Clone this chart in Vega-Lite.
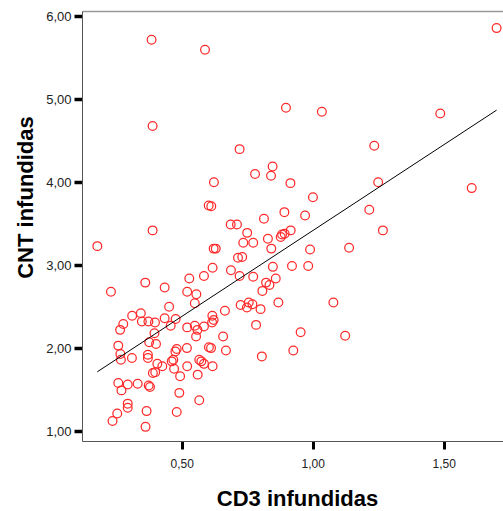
{
  "$schema": "https://vega.github.io/schema/vega-lite/v6.json",
  "width": 421,
  "height": 430,
  "autosize": "none",
  "padding": {"left": 82, "top": 11, "right": 0, "bottom": 70},
  "background": "white",
  "config": {"view": {"stroke": null}, "font": "Liberation Sans"},
  "data": {"values": [
    {"cd3": 0.385, "cnt": 5.72}, {"cd3": 0.389, "cnt": 4.68}, {"cd3": 1.702, "cnt": 5.86}, {"cd3": 1.487, "cnt": 4.83},
    {"cd3": 1.235, "cnt": 4.44}, {"cd3": 0.589, "cnt": 5.60}, {"cd3": 0.898, "cnt": 4.90}, {"cd3": 1.035, "cnt": 4.85},
    {"cd3": 0.721, "cnt": 4.40}, {"cd3": 0.847, "cnt": 4.19}, {"cd3": 0.780, "cnt": 4.10}, {"cd3": 0.841, "cnt": 4.08},
    {"cd3": 0.623, "cnt": 4.00}, {"cd3": 0.915, "cnt": 3.99}, {"cd3": 1.001, "cnt": 3.82}, {"cd3": 0.603, "cnt": 3.72},
    {"cd3": 0.613, "cnt": 3.71}, {"cd3": 0.892, "cnt": 3.64}, {"cd3": 0.971, "cnt": 3.60}, {"cd3": 0.814, "cnt": 3.56},
    {"cd3": 0.687, "cnt": 3.49}, {"cd3": 0.711, "cnt": 3.49}, {"cd3": 0.750, "cnt": 3.39}, {"cd3": 0.916, "cnt": 3.42},
    {"cd3": 0.883, "cnt": 3.37}, {"cd3": 0.893, "cnt": 3.38}, {"cd3": 0.878, "cnt": 3.34}, {"cd3": 0.735, "cnt": 3.27},
    {"cd3": 0.773, "cnt": 3.27}, {"cd3": 0.829, "cnt": 3.32}, {"cd3": 0.622, "cnt": 3.20}, {"cd3": 0.630, "cnt": 3.20},
    {"cd3": 0.842, "cnt": 3.20}, {"cd3": 0.990, "cnt": 3.19}, {"cd3": 1.139, "cnt": 3.21}, {"cd3": 0.715, "cnt": 3.09},
    {"cd3": 0.731, "cnt": 3.10}, {"cd3": 0.618, "cnt": 2.97}, {"cd3": 0.688, "cnt": 2.94}, {"cd3": 0.848, "cnt": 2.98},
    {"cd3": 0.921, "cnt": 2.99}, {"cd3": 0.983, "cnt": 2.99}, {"cd3": 0.585, "cnt": 2.87}, {"cd3": 0.721, "cnt": 2.87},
    {"cd3": 0.773, "cnt": 2.86}, {"cd3": 0.529, "cnt": 2.84}, {"cd3": 0.859, "cnt": 2.84}, {"cd3": 0.822, "cnt": 2.79},
    {"cd3": 0.835, "cnt": 2.76}, {"cd3": 0.521, "cnt": 2.68}, {"cd3": 0.556, "cnt": 2.65}, {"cd3": 0.808, "cnt": 2.69},
    {"cd3": 0.550, "cnt": 2.54}, {"cd3": 0.869, "cnt": 2.55}, {"cd3": 1.079, "cnt": 2.55}, {"cd3": 0.725, "cnt": 2.52},
    {"cd3": 0.756, "cnt": 2.55}, {"cd3": 0.770, "cnt": 2.53}, {"cd3": 0.749, "cnt": 2.49}, {"cd3": 0.801, "cnt": 2.47},
    {"cd3": 0.665, "cnt": 2.45}, {"cd3": 0.361, "cnt": 2.79}, {"cd3": 0.230, "cnt": 2.68}, {"cd3": 0.435, "cnt": 2.73},
    {"cd3": 0.452, "cnt": 2.50}, {"cd3": 0.389, "cnt": 3.42}, {"cd3": 0.178, "cnt": 3.23}, {"cd3": 0.617, "cnt": 2.39},
    {"cd3": 0.622, "cnt": 2.34}, {"cd3": 0.616, "cnt": 2.31}, {"cd3": 0.784, "cnt": 2.28}, {"cd3": 0.954, "cnt": 2.19},
    {"cd3": 1.124, "cnt": 2.15}, {"cd3": 0.658, "cnt": 2.14}, {"cd3": 0.669, "cnt": 1.97}, {"cd3": 0.926, "cnt": 1.97},
    {"cd3": 0.806, "cnt": 1.90}, {"cd3": 0.618, "cnt": 1.78}, {"cd3": 0.311, "cnt": 2.39}, {"cd3": 0.344, "cnt": 2.42},
    {"cd3": 0.348, "cnt": 2.32}, {"cd3": 0.373, "cnt": 2.32}, {"cd3": 0.398, "cnt": 2.31}, {"cd3": 0.435, "cnt": 2.36},
    {"cd3": 0.477, "cnt": 2.35}, {"cd3": 0.458, "cnt": 2.27}, {"cd3": 0.277, "cnt": 2.29}, {"cd3": 0.265, "cnt": 2.22},
    {"cd3": 0.521, "cnt": 2.25}, {"cd3": 0.550, "cnt": 2.27}, {"cd3": 0.560, "cnt": 2.22}, {"cd3": 0.555, "cnt": 2.14},
    {"cd3": 0.585, "cnt": 2.26}, {"cd3": 0.396, "cnt": 2.18}, {"cd3": 0.376, "cnt": 2.07}, {"cd3": 0.402, "cnt": 2.05},
    {"cd3": 0.258, "cnt": 2.03}, {"cd3": 0.266, "cnt": 1.93}, {"cd3": 0.268, "cnt": 1.86}, {"cd3": 0.310, "cnt": 1.88},
    {"cd3": 0.371, "cnt": 1.92}, {"cd3": 0.371, "cnt": 1.88}, {"cd3": 0.407, "cnt": 1.81}, {"cd3": 0.390, "cnt": 1.70},
    {"cd3": 0.399, "cnt": 1.71}, {"cd3": 0.426, "cnt": 1.78}, {"cd3": 0.462, "cnt": 1.84}, {"cd3": 0.468, "cnt": 1.86},
    {"cd3": 0.476, "cnt": 1.96}, {"cd3": 0.481, "cnt": 1.99}, {"cd3": 0.471, "cnt": 1.75}, {"cd3": 0.520, "cnt": 2.00},
    {"cd3": 0.521, "cnt": 1.78}, {"cd3": 0.494, "cnt": 1.66}, {"cd3": 0.567, "cnt": 1.86}, {"cd3": 0.575, "cnt": 1.84},
    {"cd3": 0.585, "cnt": 1.81}, {"cd3": 0.604, "cnt": 2.01}, {"cd3": 0.612, "cnt": 2.00}, {"cd3": 0.561, "cnt": 1.68},
    {"cd3": 0.258, "cnt": 1.58}, {"cd3": 0.270, "cnt": 1.49}, {"cd3": 0.294, "cnt": 1.56}, {"cd3": 0.332, "cnt": 1.57},
    {"cd3": 0.374, "cnt": 1.55}, {"cd3": 0.379, "cnt": 1.53}, {"cd3": 0.491, "cnt": 1.46}, {"cd3": 0.567, "cnt": 1.37},
    {"cd3": 0.294, "cnt": 1.33}, {"cd3": 0.294, "cnt": 1.28}, {"cd3": 0.254, "cnt": 1.21}, {"cd3": 0.236, "cnt": 1.12},
    {"cd3": 0.366, "cnt": 1.24}, {"cd3": 0.481, "cnt": 1.23}, {"cd3": 0.362, "cnt": 1.05}, {"cd3": 1.250, "cnt": 4.00},
    {"cd3": 1.607, "cnt": 3.93}, {"cd3": 1.216, "cnt": 3.67}, {"cd3": 1.268, "cnt": 3.42}
  ]},
  "layer": [
    {
      "mark": {"type": "point", "shape": "circle", "filled": false, "color": "#ff2a2a", "strokeWidth": 1.25, "size": 76, "opacity": 1},
      "encoding": {
        "x": {"field": "cd3", "type": "quantitative",
          "scale": {"domain": [0.1195, 1.7264], "nice": false, "zero": false},
          "axis": {"values": [0.5, 1, 1.5], "labelExpr": "replace(format(datum.value, '.2f'), '.', ',')",
            "grid": false, "domainColor": "#555", "domainWidth": 1, "tickColor": "black", "tickWidth": 3, "tickSize": 8,
            "labelFontSize": 12, "labelColor": "#222", "labelPadding": 9, "labelFlush": false,
            "title": "CD3 infundidas", "titleFontSize": 22, "titleFontWeight": "bold", "titleColor": "black",
            "titleX": 215, "titleY": 64, "titleBaseline": "alphabetic", "titleAlign": "center", "titleAnchor": null}
        },
        "y": {"field": "cnt", "type": "quantitative",
          "scale": {"domain": [0.8794, 6.0663], "nice": false, "zero": false},
          "axis": {"values": [1, 2, 3, 4, 5, 6], "labelExpr": "replace(format(datum.value, '.2f'), '.', ',')",
            "grid": false, "domainColor": "#555", "domainWidth": 1, "tickColor": "black", "tickWidth": 3.5, "tickSize": 8,
            "labelFontSize": 13, "labelColor": "#222", "labelPadding": 3, "labelFlush": false,
            "title": "CNT infundidas", "titleFontSize": 22, "titleFontWeight": "bold", "titleColor": "black",
            "titleX": -50, "titleY": 186, "titleAngle": -90, "titleBaseline": "alphabetic", "titleAlign": "center", "titleAnchor": null}
        }
      }
    },
    {
      "transform": [{"regression": "cnt", "on": "cd3"}],
      "mark": {"type": "line", "color": "black", "strokeWidth": 1},
      "encoding": {
        "x": {"field": "cd3", "type": "quantitative",
          "axis": {"orient": "top", "labels": false, "ticks": false, "grid": false, "title": null, "domainColor": "#999", "domainWidth": 1.5}},
        "y": {"field": "cnt", "type": "quantitative"}
      }
    }
  ],
  "resolve": {"axis": {"x": "independent"}}
}
